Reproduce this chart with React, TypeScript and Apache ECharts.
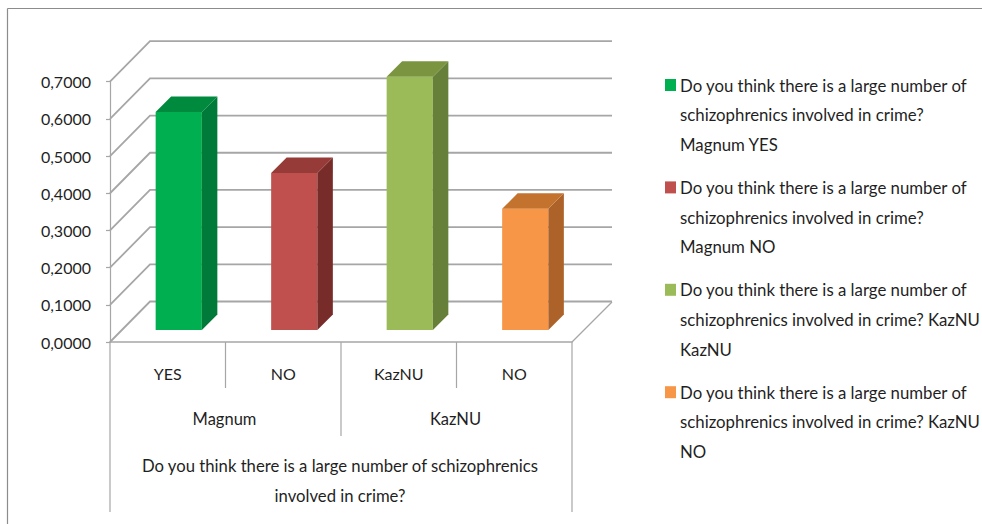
import React, { useEffect, useRef } from "react";
import * as echarts from "echarts";

const categories = ["YES", "NO", "KazNU", "NO"];
const values = [0.586, 0.422, 0.681, 0.326];
const gridTicks = [0, 0.1, 0.2, 0.3, 0.4, 0.5, 0.6, 0.7];
const groups = ["Magnum", "KazNU"];
const questionLines = ["Do you think there is a large number of schizophrenics", "involved in crime?"];
const legendLines = [
  ["Do you think there is a large number of", "schizophrenics involved in crime?", "Magnum YES"],
  ["Do you think there is a large number of", "schizophrenics involved in crime?", "Magnum NO"],
  ["Do you think there is a large number of", "schizophrenics involved in crime? KazNU", "KazNU"],
  ["Do you think there is a large number of", "schizophrenics involved in crime? KazNU", "NO"],
];
const frontColors = ["#00B050", "#C0504D", "#9BBB59", "#F79646"];
const sideColors = ["#007A38", "#772C2A", "#66803A", "#AC6228"];
const topColors = ["#008A3E", "#963B38", "#7A9440", "#C4732F"];

const FONT = "Lato";
const TEXT = "#1F1F1F";
const LINE = "#A6A6A6";
const LEFT = 110;
const RIGHT = 572;
const TOP = 81.7;
const BOTTOM = 342;
const WALL = 40;

function txt(x: number, y: number, text: string, size: number, align = "center") {
  return {
    type: "text",
    x,
    y,
    silent: true,
    style: { text, fill: TEXT, font: `${size}px ${FONT}`, align, verticalAlign: "middle" },
  };
}
function ln(x1: number, y1: number, x2: number, y2: number, stroke = LINE, lineWidth = 1.2) {
  return { type: "line", silent: true, shape: { x1, y1, x2, y2 }, style: { stroke, lineWidth } };
}

export default function App() {
  const ref = useRef<HTMLDivElement>(null);
  useEffect(() => {
    const chart = echarts.init(ref.current!, null, { renderer: "svg" });
    const cw = (RIGHT - LEFT) / 4;
    const graphic: any[] = [
      ln(7.5, 8.5, 982, 8.5, "#8C8C8C", 1.2),
      ln(7.5, 8.5, 7.5, 524, "#8C8C8C", 1.2),
      ln(LEFT, BOTTOM, LEFT, 512),
      ln(RIGHT, BOTTOM, RIGHT, 512),
      ln(LEFT + cw, BOTTOM, LEFT + cw, 388),
      ln(LEFT + 3 * cw, BOTTOM, LEFT + 3 * cw, 388),
      ln(LEFT + 2 * cw, BOTTOM, LEFT + 2 * cw, 436),
      ln(RIGHT, BOTTOM, RIGHT + WALL, BOTTOM - WALL),
    ];
    groups.forEach((g, i) => graphic.push(txt(LEFT + cw * (1 + 2 * i) - 1, 419, g, 16.5)));
    questionLines.forEach((l, i) => graphic.push(txt((LEFT + RIGHT) / 2 - 1, 466 + i * 30, l, 16.7)));
    legendLines.forEach((lines, i) => {
      const y0 = 85 + i * 102.4;
      graphic.push({
        type: "rect",
        silent: true,
        shape: { x: 665, y: y0 - 6, width: 11, height: 12 },
        style: { fill: frontColors[i] },
      });
      lines.forEach((l, j) => graphic.push(txt(680, y0 + j * 29.7, l, 16.8, "left")));
    });

    chart.setOption({
      animation: false,
      backgroundColor: "#fff",
      grid: { left: LEFT, top: TOP, width: RIGHT - LEFT, height: BOTTOM - TOP },
      graphic,
      xAxis: {
        type: "category",
        data: categories,
        axisLine: { show: true, lineStyle: { color: LINE, width: 1.5 } },
        axisTick: { show: false },
        axisLabel: { color: TEXT, fontFamily: FONT, fontSize: 16, margin: 22, lineHeight: 18 },
      },
      yAxis: {
        type: "value",
        min: 0,
        max: 0.7,
        interval: 0.1,
        splitLine: { show: false },
        axisLine: { show: true, lineStyle: { color: LINE, width: 1.2 } },
        axisTick: { show: true, length: 4, lineStyle: { color: LINE, width: 1.2 } },
        axisLabel: {
          color: TEXT,
          fontFamily: FONT,
          fontSize: 16,
          margin: 19,
          formatter: (v: number) => v.toFixed(4).replace(".", ","),
        },
      },
      series: [
        {
          type: "custom",
          z: 1,
          silent: true,
          clip: false,
          data: gridTicks.map((t) => [0, t]),
          encode: { x: 0, y: 1 },
          renderItem: (_p: any, api: any) => {
            const y = api.coord([0, api.value(1)])[1];
            return {
              type: "polyline",
              shape: {
                points: [
                  [LEFT, y],
                  [LEFT + WALL, y - WALL - 0.5],
                  [RIGHT + WALL, y - WALL - 0.5],
                ],
              },
              style: { stroke: LINE, lineWidth: 1.8, fill: "none" },
            };
          },
        },
        {
          type: "custom",
          z: 2,
          silent: true,
          clip: false,
          data: values.map((v, i) => [i, v]),
          encode: { x: 0, y: 1 },
          renderItem: (_p: any, api: any) => {
            const i = api.value(0);
            const top = api.coord([i, api.value(1)]);
            const base = api.coord([i, 0]);
            const w = api.size([1, 0])[0] * 0.4;
            const shiftX = 11;
            const shiftY = 12;
            const d = 15.5;
            const x0 = top[0] - w / 2 + shiftX;
            const x1 = x0 + w;
            const yT = top[1] - shiftY;
            const yB = base[1] - shiftY;
            const poly = (points: number[][], fill: string) => ({
              type: "polygon",
              shape: { points },
              style: { fill, stroke: "none" },
            });
            return {
              type: "group",
              children: [
                poly([[x0, yB], [x1, yB], [x1, yT], [x0, yT]], frontColors[i]),
                poly([[x1, yB], [x1 + d, yB - d], [x1 + d, yT - d], [x1, yT]], sideColors[i]),
                poly([[x0, yT], [x1, yT], [x1 + d, yT - d], [x0 + d, yT - d]], topColors[i]),
              ],
            };
          },
        },
      ],
    });
    return () => chart.dispose();
  }, []);
  return <div ref={ref} style={{ position: "fixed", left: 0, top: 0, width: 982, height: 524 }} />;
}
